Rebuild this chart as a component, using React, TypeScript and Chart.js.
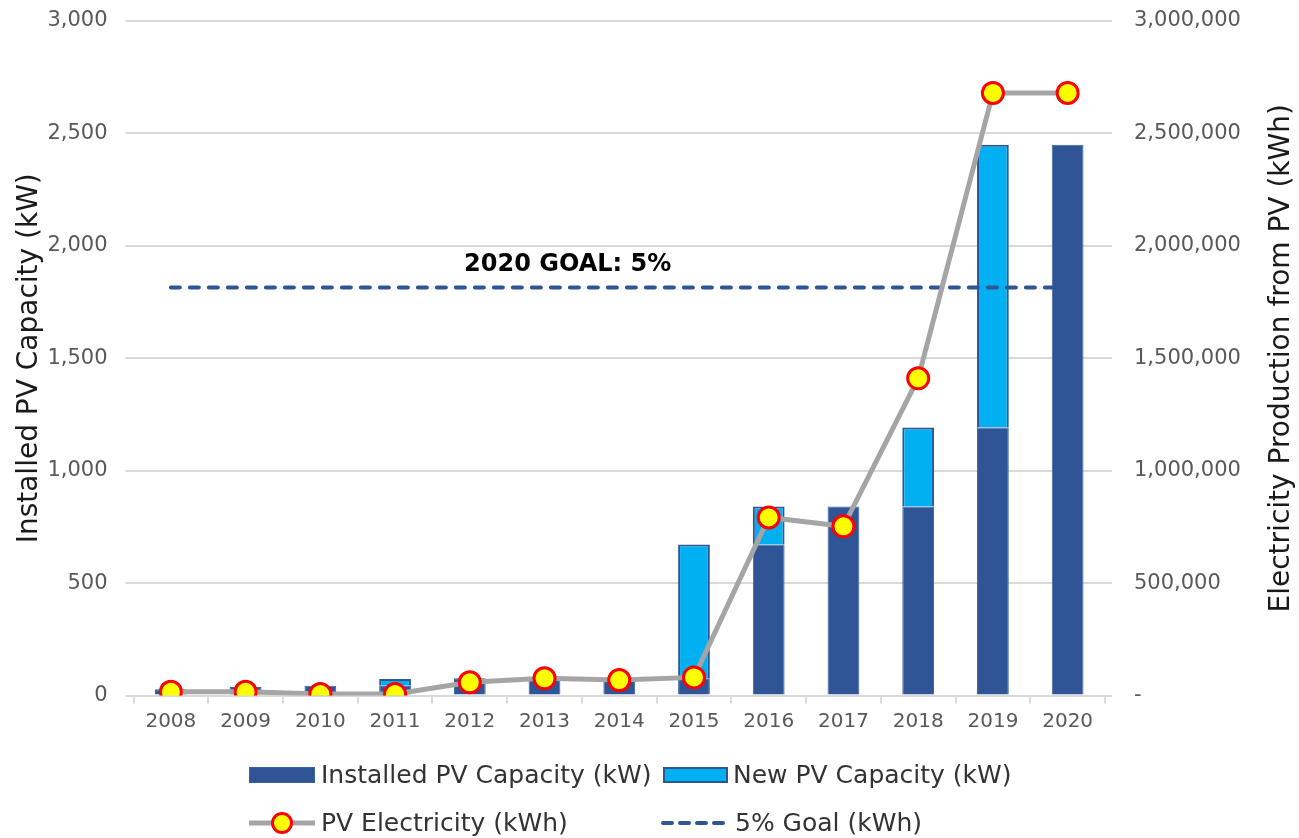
import React, { useEffect, useRef } from "react";
import { Chart, registerables } from "chart.js";

Chart.register(...registerables);

const years = ["2008", "2009", "2010", "2011", "2012", "2013", "2014", "2015", "2016", "2017", "2018", "2019", "2020"];
const installedKW = [28, 38, 44, 44, 77, 77, 77, 77, 672, 841, 841, 1192, 2450];
const newKW = [0, 0, 0, 30, 0, 0, 0, 595, 169, 0, 351, 1258, 0];
const pvKWh = [17000, 17000, 7000, 7000, 59000, 77000, 69000, 81000, 792000, 753000, 1411000, 2680000, 2680000];
const goalKWh = [1815000, 1815000, 1815000, 1815000, 1815000, 1815000, 1815000, 1815000, 1815000, 1815000, 1815000, 1815000, 1815000];
const goalLabel = "2020 GOAL: 5%";
const leftTitle = "Installed PV Capacity (kW)";
const rightTitle = "Electricity Production from PV (kWh)";

const FONT = "'DejaVu Sans', sans-serif";
const DARK = "#2F5597";
const LIGHT = "#00B0F0";
const GRAY = "#A5A5A5";
const GRID = "#D9D9D9";

const fmt = (v: number) => Math.round(v).toLocaleString("en-US");

const extrasPlugin = {
  id: "extras",
  afterDraw(chart: any) {
    const { ctx, chartArea, scales } = chart;
    ctx.save();
    // right axis title, reading bottom-to-top
    ctx.translate(1282, (chartArea.top + chartArea.bottom) / 2);
    ctx.rotate(-Math.PI / 2);
    ctx.font = `28px ${FONT}`;
    ctx.fillStyle = "#1a1a1a";
    ctx.textAlign = "center";
    ctx.textBaseline = "middle";
    ctx.fillText(rightTitle, 0, 0);
    ctx.restore();

    // goal annotation
    ctx.save();
    const gx = scales.x.getPixelForValue(5.31);
    const gy = scales.y1.getPixelForValue(goalKWh[0]) - 23;
    ctx.font = `bold 24px ${FONT}`;
    ctx.fillStyle = "#000";
    ctx.textAlign = "center";
    ctx.textBaseline = "middle";
    ctx.fillText(goalLabel, gx, gy);
    ctx.restore();
  },
};

export default function App() {
  const ref = useRef<HTMLCanvasElement>(null);

  useEffect(() => {
    if (!ref.current) return;
    const chart = new Chart(ref.current, {
      type: "bar",
      data: {
        labels: years,
        datasets: [
          {
            type: "line",
            label: "PV Electricity (kWh)",
            data: pvKWh,
            yAxisID: "y1",
            borderColor: GRAY,
            borderWidth: 5,
            backgroundColor: "#FFFF00",
            pointBackgroundColor: "#FFFF00",
            pointBorderColor: "#FF0000",
            pointBorderWidth: 3,
            pointRadius: 10.5,
            tension: 0,
            order: 0,
          } as any,
          {
            type: "line",
            label: "5% Goal (kWh)",
            data: goalKWh,
            yAxisID: "y1",
            borderColor: DARK,
            borderWidth: 4,
            borderDash: [9, 10],
            borderCapStyle: "round",
            pointRadius: 0,
            tension: 0,
            order: 1,
          } as any,
          {
            type: "bar",
            label: "Installed PV Capacity (kW)",
            data: installedKW,
            yAxisID: "y",
            backgroundColor: DARK,
            borderColor: "#3A62A8",
            borderWidth: 1,
            barPercentage: 0.425,
            categoryPercentage: 1,
            order: 2,
          },
          {
            type: "bar",
            label: "New PV Capacity (kW)",
            data: newKW,
            yAxisID: "y",
            backgroundColor: LIGHT,
            borderColor: DARK,
            borderWidth: 2,
            barPercentage: 0.425,
            categoryPercentage: 1,
            order: 2,
          },
        ],
      },
      options: {
        responsive: false,
        animation: false,
        layout: { padding: { top: 21, bottom: 92.4, left: 0, right: 0 } },
        plugins: { legend: { display: false }, tooltip: { enabled: false } },
        scales: {
          x: {
            stacked: true,
            offset: true,
            grid: { offset: true, drawOnChartArea: false, drawTicks: true, tickLength: 8, color: GRID, lineWidth: 2 },
            border: { display: true, color: GRID, width: 2 },
            ticks: { color: "#595959", font: { family: FONT, size: 20 }, padding: 6, maxRotation: 0, autoSkip: false },
            afterFit: (s: any) => { s.height = 50; },
          },
          y: {
            position: "left",
            stacked: true,
            min: 0,
            max: 3000,
            ticks: { stepSize: 500, color: "#595959", font: { family: FONT, size: 21 }, padding: 18, callback: (v: any) => fmt(Number(v)) },
            grid: { color: GRID, lineWidth: 2, tickLength: 8 },
            border: { display: false },
            title: { display: true, text: leftTitle, color: "#1a1a1a", font: { family: FONT, size: 28 }, padding: { top: 13, bottom: 0 } },
            afterFit: (s: any) => { s.width = 133.5; s.paddingTop = 0; s.paddingBottom = 0; },
          },
          y1: {
            position: "right",
            stacked: false,
            min: 0,
            max: 3000000,
            ticks: {
              stepSize: 500000,
              color: "#595959",
              font: { family: FONT, size: 21 },
              padding: 22,
              callback: (v: any) => (Number(v) === 0 ? "-" : fmt(Number(v))),
            },
            grid: { drawOnChartArea: false, color: GRID, lineWidth: 2, tickLength: 7 },
            border: { display: false },
            afterFit: (s: any) => { s.width = 194; s.paddingTop = 0; s.paddingBottom = 0; },
          },
        },
      },
      plugins: [extrasPlugin],
    } as any);
    return () => chart.destroy();
  }, []);

  const textStyle: React.CSSProperties = {
    position: "absolute",
    fontFamily: FONT,
    fontSize: 25,
    color: "#333",
    lineHeight: "30px",
    whiteSpace: "nowrap",
  };

  return (
    <div style={{ position: "absolute", left: 0, top: 0, width: 1299, height: 838, background: "#fff" }}>
      <canvas ref={ref} width={1299} height={838} style={{ position: "absolute", left: 0, top: 0 }} />
      {/* legend row 1 */}
      <div style={{ position: "absolute", left: 249, top: 767, width: 66, height: 16, background: DARK, boxSizing: "border-box", border: "1px solid #3A62A8" }} />
      <div style={{ ...textStyle, left: 321, top: 760 }}>Installed PV Capacity (kW)</div>
      <div style={{ position: "absolute", left: 663, top: 767, width: 65, height: 16, background: LIGHT, boxSizing: "border-box", border: `2px solid ${DARK}` }} />
      <div style={{ ...textStyle, left: 733, top: 760 }}>New PV Capacity (kW)</div>
      {/* legend row 2 */}
      <svg style={{ position: "absolute", left: 247, top: 809 }} width={70} height={28}>
        <line x1={2} y1={14} x2={68} y2={14} stroke={GRAY} strokeWidth={5} />
        <circle cx={35} cy={14} r={9.5} fill="#FFFF00" stroke="#FF0000" strokeWidth={3} />
      </svg>
      <div style={{ ...textStyle, left: 321, top: 808 }}>PV Electricity (kWh)</div>
      <svg style={{ position: "absolute", left: 659, top: 809 }} width={74} height={28}>
        <line x1={4} y1={14} x2={70} y2={14} stroke={DARK} strokeWidth={4} strokeDasharray="9 8" strokeLinecap="round" />
      </svg>
      <div style={{ ...textStyle, left: 735, top: 808 }}>5% Goal (kWh)</div>
    </div>
  );
}
